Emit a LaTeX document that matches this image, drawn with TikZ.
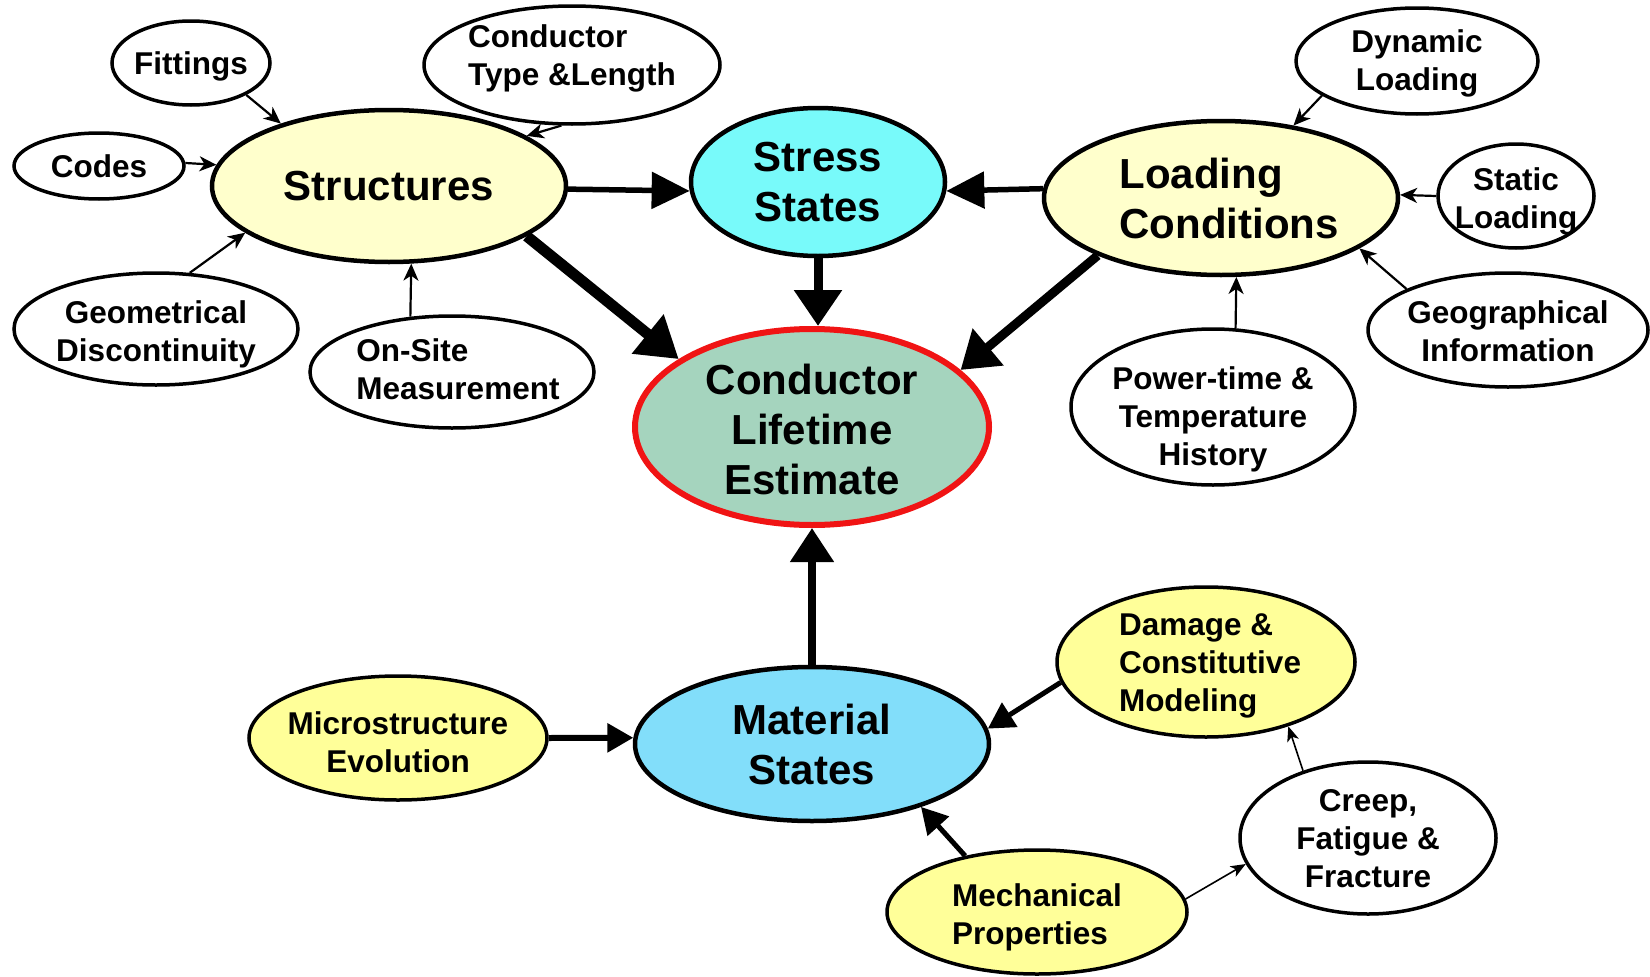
\documentclass[tikz,border=0pt]{standalone}
\usepackage{fontspec}
\setmainfont{Liberation Sans}
\usetikzlibrary{shapes.geometric,arrows.meta}

\definecolor{ltyellow}{RGB}{255,255,204}
\definecolor{brtyellow}{RGB}{255,255,153}
\definecolor{cyanfill}{RGB}{120,250,250}
\definecolor{bluefill}{RGB}{130,222,250}
\definecolor{greenfill}{RGB}{165,212,190}
\definecolor{redline}{RGB}{240,20,20}

\tikzset{
  ell/.style={ellipse, draw=black, line width=3.5pt, fill=white, inner sep=0pt},
  bigell/.style={ell, line width=4.5pt},
  bigtxt/.style={font=\bfseries\fontsize{42}{50}\selectfont, align=center, inner sep=0pt},
  bigtxtl/.style={font=\bfseries\fontsize{42}{50}\selectfont, align=left, inner sep=0pt},
  smtxt/.style={font=\bfseries\fontsize{31.5}{38}\selectfont, align=center, inner sep=0pt},
  smtxtl/.style={font=\bfseries\fontsize{31.5}{38}\selectfont, align=left, inner sep=0pt},
  thinarr/.style={line width=2.2pt, -{Stealth[length=17pt,width=15pt,inset=5pt]}},
  finearr/.style={line width=1.6pt, -{Stealth[length=15pt,width=12pt,inset=4pt]}},
  thickarr/.style={line width=5.5pt, -{Triangle[length=38pt,width=36pt]}},
  vthickarr/.style={line width=9pt, -{Triangle[length=36pt,width=46pt]}},
  xthickarr/.style={line width=11pt, -{Triangle[length=40pt,width=48pt]}},
  medarr/.style={line width=5.5pt, -{Triangle[length=26pt,width=28pt]}},
}

\begin{document}
\begin{tikzpicture}[x=1pt,y=-1pt]
\useasboundingbox (0,0) rectangle (1650,977);

% main nodes
\node[bigell, fill=ltyellow, minimum width=354pt, minimum height=152pt,
      label={[bigtxt]center:Structures}] (str) at (389,186) {};
\node[bigell, fill=cyanfill, minimum width=254pt, minimum height=148pt,
      label={[bigtxt]center:{Stress\\States}}] (stress) at (818,182) {};
\node[bigell, fill=ltyellow, minimum width=354pt, minimum height=154pt,
      label={[bigtxtl, xshift=8pt]center:{Loading\\Conditions}}] (lc) at (1221,198) {};
\node[ellipse, draw=redline, line width=6pt, fill=greenfill, inner sep=0pt,
      minimum width=354pt, minimum height=196pt,
      label={[bigtxt, yshift=-2pt]center:{Conductor\\Lifetime\\Estimate}}] (cle) at (812,427) {};
\node[bigell, fill=bluefill, minimum width=354pt, minimum height=154pt,
      label={[bigtxt]center:{Material\\States}}] (mat) at (812,744) {};

% structure inputs
\node[ell, minimum width=158pt, minimum height=84pt,
      label={[smtxt, yshift=-3pt]center:Fittings}] (fit) at (191,63) {};
\node[ell, minimum width=296pt, minimum height=118pt,
      label={[smtxtl, yshift=7pt]center:{Conductor\\Type \&Length}}] (ctl) at (572,65) {};
\node[ell, minimum width=170pt, minimum height=66pt,
      label={[smtxt]center:Codes}] (codes) at (99,166) {};
\node[ell, minimum width=284pt, minimum height=112pt,
      label={[smtxt, yshift=-5pt]center:{Geometrical\\Discontinuity}}] (geo) at (156,329) {};
\node[ell, minimum width=284pt, minimum height=112pt,
      label={[smtxtl, xshift=6pt, yshift=3pt]center:{On-Site\\Measurement}}] (onsite) at (452,372) {};

% loading inputs
\node[ell, minimum width=242pt, minimum height=106pt,
      label={[smtxt, yshift=-2pt]center:{Dynamic\\Loading}}] (dyn) at (1417,61) {};
\node[ell, minimum width=156pt, minimum height=104pt,
      label={[smtxt, yshift=-5.5pt]center:{Static\\Loading}}] (static) at (1516,196) {};
\node[ell, minimum width=280pt, minimum height=114pt,
      label={[smtxt, yshift=-1pt]center:{Geographical\\Information}}] (geog) at (1508,330) {};
\node[ell, minimum width=284pt, minimum height=156pt,
      label={[smtxt, yshift=-12.5pt]center:{Power-time \&\\Temperature\\History}}] (pth) at (1213,407) {};

% material inputs
\node[ell, fill=brtyellow, minimum width=298pt, minimum height=124pt,
      label={[smtxt, yshift=-4pt]center:{Microstructure\\Evolution}}] (micro) at (398,738) {};
\node[ell, fill=brtyellow, minimum width=298pt, minimum height=150pt,
      label={[smtxtl, xshift=4pt, yshift=-3.5pt]center:{Damage \&\\Constitutive\\Modeling}}] (dmg) at (1206,662) {};
\node[ell, minimum width=256pt, minimum height=152pt,
      label={[smtxt, yshift=-1pt]center:{Creep,\\Fatigue \&\\Fracture}}] (creep) at (1368,838) {};
\node[ell, fill=brtyellow, minimum width=300pt, minimum height=124pt,
      label={[smtxtl, yshift=-5pt]center:{Mechanical\\Properties}}] (mech) at (1037,912) {};

% thin arrows into Structures
\draw[thinarr] (fit.-30) -- (str.150);
\draw[thinarr] (codes.2) -- (str.173);
\draw[thinarr] (ctl.-100) -- (str.20);
\draw[thinarr] (geo.59) -- (str.-162);
\draw[thinarr] (onsite.127) -- (str.-74);

% thin arrows into Loading Conditions
\draw[thinarr] (dyn.-160) -- (lc.45);
\draw[thinarr] (static.180) -- (lc.1);
\draw[thinarr] (geog.158) -- (lc.-20);
\draw[thinarr] (pth.74) -- (lc.-79);

% thick arrows
\draw[thickarr] (str.-1) -- (stress.-176);
\draw[thickarr] (lc.177) -- (stress.-4);
\draw[vthickarr] (stress.south) -- (stress.south |- cle.north);
\draw[xthickarr] (str.-20) -- (cle.153);
\draw[vthickarr] (lc.-155) -- (cle.21);
\draw[line width=8pt, -{Triangle[length=34pt,width=42pt]}] (mat.north) -- (cle.south);

% material arrows
\draw[medarr, line width=6pt] (micro.0) -- (mat.178);
\draw[medarr, line width=5pt] (dmg.-172) -- (mat.5);
\draw[medarr, line width=5pt] (mech.142) -- (mat.-30);
\draw[finearr] (mech.5) -- (creep.-168);
\draw[finearr] (creep.134) -- (dmg.-38);
\end{tikzpicture}
\end{document}
